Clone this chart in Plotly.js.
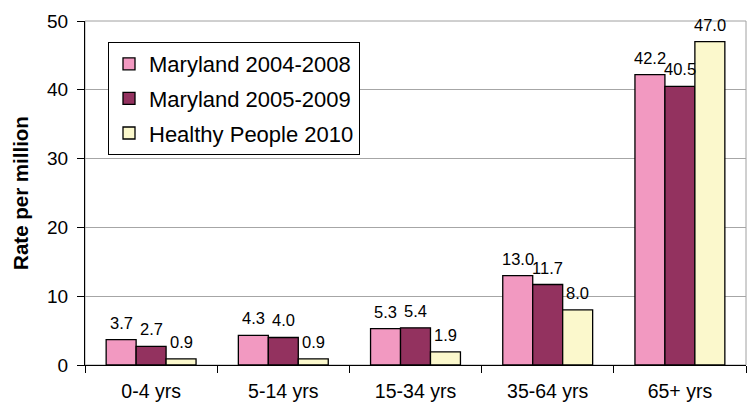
<!DOCTYPE html>
<html>
<head>
<meta charset="utf-8">
<script src="https://cdn.plot.ly/plotly-3.0.1.min.js"></script>
<style>html,body{margin:0;padding:0;background:#fff;}#chart{width:747px;height:404px;}</style>
</head>
<body>
<div id="chart"></div>
<script>
const categories = ["0-4 yrs", "5-14 yrs", "15-34 yrs", "35-64 yrs", "65+ yrs"];
const seriesNames = ["Maryland 2004-2008", "Maryland 2005-2009", "Healthy People 2010"];
const md0408 = [3.7, 4.3, 5.3, 13.0, 42.2];
const md0509 = [2.7, 4.0, 5.4, 11.7, 40.5];
const hp2010 = [0.9, 0.9, 1.9, 8.0, 47.0];
const yTicks = [0, 10, 20, 30, 40, 50];

const seriesValues = [md0408, md0509, hp2010];
const colors = ["#f299c1", "#93325f", "#fbf8cc"];

const W = 747, H = 404;
const margin = {l: 85, r: 1, t: 21, b: 39};
const bargap = 0.32;
const plotW = W - margin.l - margin.r;
const barPx = plotW / categories.length * (1 - bargap) / seriesValues.length;

const font = "Liberation Sans, Arial, sans-serif";

const traces = seriesValues.map((vals, i) => ({
  type: "bar",
  name: seriesNames[i],
  x: categories,
  y: vals,
  legendgroup: "g" + i,
  marker: {color: colors[i], line: {color: "#000", width: 1.3}},
  hoverinfo: "x+y+name"
}));

const annotations = [];
seriesValues.forEach((vals, i) => {
  vals.forEach((v, j) => {
    annotations.push({
      x: categories[j], y: v, xref: "x", yref: "y",
      text: v.toFixed(1), showarrow: false,
      yanchor: "bottom", xanchor: "center",
      xshift: (i - (seriesValues.length - 1) / 2) * barPx,
      yshift: 6,
      font: {family: font, size: 16.5, color: "#000"}
    });
  });
});

const layout = {
  width: W, height: H,
  margin: margin,
  paper_bgcolor: "#fff", plot_bgcolor: "#fff",
  barmode: "group", bargap: bargap, bargroupgap: 0,
  font: {family: font, color: "#000"},
  showlegend: true,
  legend: {
    x: (108 - margin.l) / plotW, y: (H - margin.b - 42) / (H - margin.t - margin.b),
    xanchor: "left", yanchor: "top",
    bgcolor: "#fff", bordercolor: "#000", borderwidth: 1,
    font: {family: font, size: 22, color: "#000"},
    traceorder: "grouped", tracegroupgap: 3
  },
  xaxis: {
    type: "category",
    showline: true, linecolor: "#000", linewidth: 1,
    ticks: "outside", tickson: "boundaries", ticklen: 7, tickcolor: "#000",
    tickfont: {family: font, size: 19.5, color: "#000"},
    ticklabelstandoff: 9,
    showgrid: false, zeroline: false, fixedrange: true
  },
  yaxis: {
    range: [0, 50], tickvals: yTicks, ticktext: yTicks.map(String),
    showline: true, linecolor: "#000", linewidth: 1,
    ticks: "outside", ticklen: 7, tickcolor: "#000",
    tickfont: {family: font, size: 19, color: "#000"},
    ticklabelstandoff: 5,
    showgrid: true, gridcolor: "#a6a6a6", gridwidth: 1,
    zeroline: false, fixedrange: true,
    title: {text: "Rate per million", font: {family: font, size: 20.5, color: "#000", weight: "bold"}, standoff: 12}
  },
  shapes: [{
    type: "rect", xref: "paper", yref: "paper", x0: 0, x1: 1, y0: 0, y1: 1,
    line: {color: "#a0a0a0", width: 1}, layer: "below"
  }],
  annotations: annotations
};

Plotly.newPlot("chart", traces, layout, {displayModeBar: false, staticPlot: true});
</script>
</body>
</html>
